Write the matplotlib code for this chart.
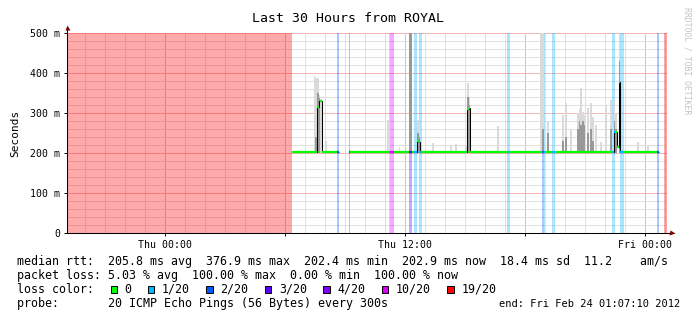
import numpy as np
import matplotlib
matplotlib.use("Agg")
import matplotlib.pyplot as plt
from matplotlib.patches import Rectangle
from matplotlib.ticker import MultipleLocator, FixedLocator, FixedFormatter

# 30 hours of 5 minute rounds, Wed 19:07:10 .. Fri 01:07:10
# time axis is in hours from Thu 00:00
t_start = -(4 + 52 / 60 + 50 / 3600)
step = 5 / 60
n_bins = 360

base_rtt = 202.8

# rounds where every ping was lost, and rounds without any data
full_loss_runs = [(0, 134), (358, 359)]
no_data_runs = [(163, 168), (355, 357)]

# rounds with some lost pings (lost out of 20)
loss_bins = [162, 169, 193, 194, 195, 205, 206, 208, 209, 211, 212, 264, 265,
             285, 286, 291, 292, 327, 328, 332, 333, 354]
loss_count = [2, 19, 1, 10, 10, 3, 3, 1, 1, 1, 1, 1, 1,
              2, 1, 1, 1, 1, 1, 1, 1, 2]

# rounds where the median rtt left the baseline (ms)
spike_bins = [150, 151, 152, 210, 211, 240, 241, 328, 329, 330, 331]
spike_rtt = [316, 333, 330, 231, 228, 310, 312, 252, 252, 216, 378]

# smoke: top of the ping spread and top of its dense core (ms, 0 = none)
smoke_bins = [148, 149, 150, 151, 152, 155, 192, 193, 199, 205, 206, 210, 211,
              219, 230, 233, 239, 240, 241, 258, 284, 285, 288, 297, 299, 302,
              306, 307, 308, 309, 310, 312, 314, 315, 317, 320, 323, 326, 328,
              329, 331, 342, 348]
smoke_top = [392, 387, 387, 345, 335, 230, 282, 282, 214, 500, 500, 282, 260,
             226, 220, 222, 217, 376, 340, 267, 500, 500, 281, 295, 325, 257,
             300, 310, 362, 303, 295, 312, 325, 290, 270, 228, 320, 332, 330,
             300, 500, 227, 217]
smoke_core = [0, 240, 350, 338, 0, 0, 0, 0, 0, 500, 500, 250, 240,
              0, 0, 0, 0, 340, 320, 0, 0, 260, 250, 230, 240, 0,
              260, 280, 270, 280, 270, 250, 260, 230, 0, 0, 0, 260, 280,
              260, 430, 0, 0]

loss_levels = [0, 1, 2, 3, 4, 10, 19]
loss_labels = ["0", "1/20", "2/20", "3/20", "4/20", "10/20", "19/20"]
loss_colors = ["#00ff00", "#00b8ff", "#0059ff", "#5e00ff", "#7e00ff",
               "#dd00ff", "#ff0000"]

x_tick_hours = [-6, 0, 6, 12, 18, 24]
x_tick_labels = ["", "Thu 00:00", "", "Thu 12:00", "", "Fri 00:00"]
y_ticks = [0, 100, 200, 300, 400, 500]
y_tick_labels = ["0", "100 m", "200 m", "300 m", "400 m", "500 m"]

title = "Last 30 Hours from ROYAL"
median_stats = ["205.8 ms avg", "376.9 ms max", "202.4 ms min",
                "202.9 ms now", "18.4 ms sd", "11.2    am/s"]
loss_stats = ["5.03 % avg", "100.00 % max", "0.00 % min", "100.00 % now"]
probe_text = "probe:       20 ICMP Echo Pings (56 Bytes) every 300s"
end_text = "end: Fri Feb 24 01:07:10 2012"

W, H = 697, 321
MONO = "DejaVu Sans Mono"


def color_of(count):
    idx = 0
    for k, level in enumerate(loss_levels):
        if count >= level:
            idx = k
    return loss_colors[idx]


# per-round arrays
loss = np.zeros(n_bins)
median = np.full(n_bins, base_rtt)
for a, b in full_loss_runs:
    loss[a:b + 1] = 20
    median[a:b + 1] = np.nan
for a, b in no_data_runs:
    median[a:b + 1] = np.nan
for i, c in zip(loss_bins, loss_count):
    loss[i] = c
for i, v in zip(spike_bins, spike_rtt):
    median[i] = v

left = t_start + np.arange(n_bins) * step
edges = t_start + np.arange(n_bins + 1) * step

fig = plt.figure(figsize=(W / 100, H / 100), dpi=100)
ax = fig.add_axes([67 / W, (H - 233) / H, 600 / W, 200 / H])
ax.set_xlim(t_start, t_start + 30)
ax.set_ylim(0, 500)
ax.set_axisbelow(True)

# loss bars, merged into runs of the same colour
run_start = None
for i in range(n_bins + 1):
    c = loss[i] if i < n_bins else -1
    prev = loss[i - 1] if i > 0 else -1
    if i < n_bins and run_start is not None and c == prev:
        continue
    if run_start is not None and prev > 0:
        ax.bar(left[run_start], 500, width=(i - run_start) * step, align="edge",
               color=color_of(prev), alpha=1 / 3, linewidth=0, zorder=1)
    run_start = i

# smoke
sx = left[smoke_bins]
ax.bar(sx, np.array(smoke_top) - 201, bottom=201, width=step, align="edge",
       color="#dadada", linewidth=0, zorder=1.2)
core = np.array(smoke_core, dtype=float)
has_core = core > 0
ax.bar(sx[has_core], core[has_core] - 201, bottom=201, width=step, align="edge",
       color="#999999", linewidth=0, zorder=1.3)

# median line, black steps with loss coloured rounds on top
ax.stairs(median, edges, baseline=None, color="black", lw=0.75, zorder=3)
ok = ~np.isnan(median)
ax.hlines(median[ok], left[ok], left[ok] + step,
          colors=[color_of(c) for c in loss[ok]], lw=1.6, zorder=4)

# grid and axes
ax.xaxis.set_major_locator(FixedLocator(x_tick_hours))
ax.xaxis.set_major_formatter(FixedFormatter(x_tick_labels))
ax.xaxis.set_minor_locator(MultipleLocator(1))
ax.yaxis.set_major_locator(FixedLocator(y_ticks))
ax.yaxis.set_major_formatter(FixedFormatter(y_tick_labels))
ax.yaxis.set_minor_locator(MultipleLocator(20))
ax.grid(which="minor", color="#e0e0e0", lw=0.7)
ax.grid(which="major", color="#f2b4b4", lw=0.7)
ax.tick_params(which="major", length=2.2, width=0.7, pad=2.5,
               labelsize=7.1, labelfontfamily=MONO)
ax.tick_params(which="minor", length=0)
for s in ("top", "right"):
    ax.spines[s].set_visible(False)
for s in ("left", "bottom"):
    ax.spines[s].set_linewidth(0.75)
    ax.spines[s].set_zorder(5)

ax.plot([0, 0], [1, 1.02], color="black", lw=0.75, transform=ax.transAxes,
        clip_on=False, zorder=5)
ax.plot([1, 1.004], [0, 0], color="black", lw=0.75, transform=ax.transAxes,
        clip_on=False, zorder=5)
ax.plot(0, 1.03, marker="^", ms=3.6, color="#7f0000", mec="none",
        transform=ax.transAxes, clip_on=False, zorder=6)
ax.plot(1.009, 0, marker=">", ms=3.6, color="#7f0000", mec="none",
        transform=ax.transAxes, clip_on=False, zorder=6)

# texts
fig.text(0.5, 1 - 21.5 / H, title, ha="center", va="baseline",
         fontsize=9.5, family=MONO)
fig.text(15 / W, 1 - 133 / H, "Seconds", rotation=90, ha="center",
         va="center", fontsize=8, family=MONO)
fig.text(687 / W, 1 - 7 / H, "RRDTOOL / TOBI OETIKER", rotation=270,
         ha="center", va="top", fontsize=5.9, family=MONO, color="#c4c4c4")

x0 = 16.7
cw = 7.0
fs = 8.37
fig.text(x0 / W, 1 - 265 / H, "median rtt:  " + "  ".join(median_stats),
         va="baseline", fontsize=fs, family=MONO)
fig.text(x0 / W, 1 - 279 / H, "packet loss: " + "  ".join(loss_stats),
         va="baseline", fontsize=fs, family=MONO)
fig.text(x0 / W, 1 - 293 / H, "loss color:", va="baseline", fontsize=fs,
         family=MONO)
pos = 13.4
for lab, col in zip(loss_labels, loss_colors):
    bx = x0 + pos * cw
    fig.add_artist(Rectangle((bx / W, 1 - 293.3 / H), 6.3 / W, 7 / H,
                             transform=fig.transFigure, facecolor=col,
                             edgecolor="black", lw=0.7))
    fig.text((bx + 14) / W, 1 - 293 / H, lab, va="baseline", fontsize=fs,
             family=MONO)
    pos += len(lab) + 4.35
fig.text(x0 / W, 1 - 307 / H, probe_text, va="baseline", fontsize=fs,
         family=MONO)
fig.text(680 / W, 1 - 307 / H, end_text, ha="right", va="baseline",
         fontsize=7.45, family=MONO)

fig.savefig("out.png", dpi=100)
